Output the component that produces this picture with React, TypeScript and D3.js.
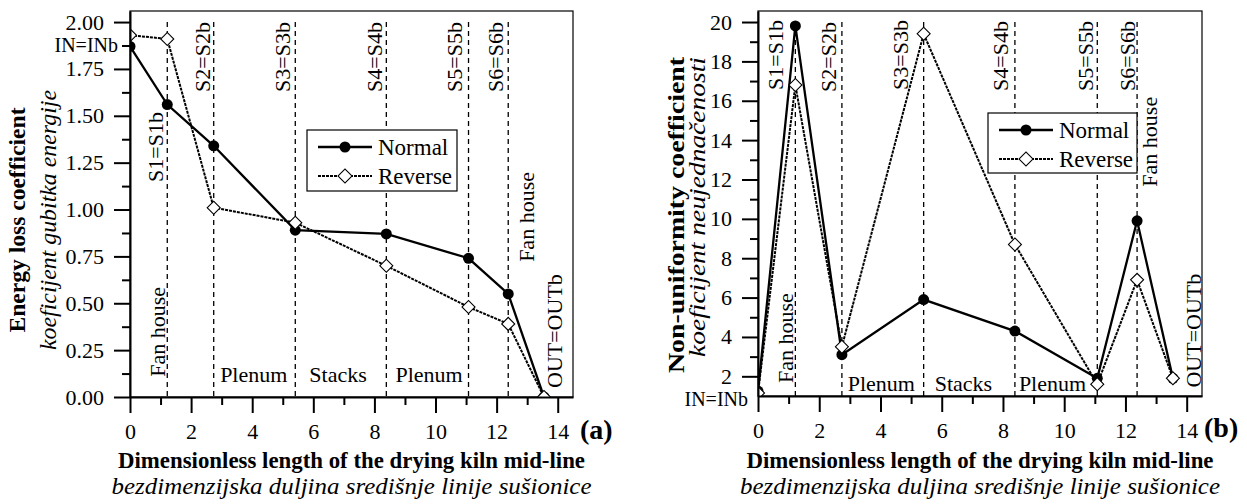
import React, { useEffect, useRef } from 'react';
import * as d3 from 'd3';

const FONT = "'Liberation Serif', 'DejaVu Serif', Times, serif";

// positions along the kiln mid-line (IN, S1..S6, OUT)
const stationX = [0, 1.22, 2.74, 5.41, 8.39, 11.08, 12.38, 13.55];
const sectionX = [1.22, 2.74, 5.41, 8.39, 11.08, 12.38];

// (a) energy loss coefficient
const lossNormal = [1.87, 1.56, 1.34, 0.89, 0.87, 0.74, 0.55, 0.0];
const lossReverse = [1.93, 1.91, 1.01, 0.93, 0.70, 0.48, 0.39, 0.0];

// (b) non-uniformity coefficient
const nonuNormal = [1.25, 19.8, 3.1, 5.9, 4.3, 1.9, 9.9, 1.9];
const nonuReverse = [1.15, 16.8, 3.5, 19.4, 8.7, 1.6, 6.9, 1.9];

const xTicks = [0, 2, 4, 6, 8, 10, 12, 14];
const xMinorTicks = [1, 3, 5, 7, 9, 11, 13];
const lossTicks = [0, 0.25, 0.5, 0.75, 1, 1.25, 1.5, 1.75, 2];
const lossMinorTicks = [0.125, 0.375, 0.625, 0.875, 1.125, 1.375, 1.625, 1.875];
const nonuTicks = [2, 4, 6, 8, 10, 12, 14, 16, 18, 20];
const nonuMinorTicks = [3, 5, 7, 9, 11, 13, 15, 17, 19];

// annotations, in data units: [text, x, y, rotated, anchor]
const lossNotes = [
  ['S1=S1b', 1.08, 1.52, true, 'end'],
  ['S2=S2b', 2.62, 2.0, true, 'end'],
  ['S3=S3b', 5.25, 2.0, true, 'end'],
  ['S4=S4b', 8.25, 2.0, true, 'end'],
  ['S5=S5b', 10.87, 2.0, true, 'end'],
  ['S6=S6b', 12.22, 2.0, true, 'end'],
  ['Fan house', 1.15, 0.108, true, 'start'],
  ['Fan house', 13.21, 1.2, true, 'end'],
  ['OUT=OUTb', 14.15, 0.048, true, 'start'],
  ['Plenum', 2.95, 0.08, false, 'start'],
  ['Stacks', 5.87, 0.08, false, 'start'],
  ['Plenum', 8.69, 0.08, false, 'start'],
];

const nonuNotes = [
  ['S1=S1b', 0.81, 20.1, true, 'end'],
  ['S2=S2b', 2.56, 20.0, true, 'end'],
  ['S3=S3b', 4.90, 20.1, true, 'end'],
  ['S4=S4b', 8.17, 20.05, true, 'end'],
  ['S5=S5b', 10.95, 20.05, true, 'end'],
  ['S6=S6b', 12.31, 20.05, true, 'end'],
  ['Fan house', 1.14, 1.66, true, 'start'],
  ['Fan house', 13.02, 16.2, true, 'end'],
  ['OUT=OUTb', 14.47, 1.43, true, 'start'],
  ['Plenum', 2.93, 1.24, false, 'start'],
  ['Stacks', 5.77, 1.24, false, 'start'],
  ['Plenum', 8.52, 1.24, false, 'start'],
];

const panels = [
  {
    id: 'a', tag: '(a)', tagX: 580, tagY: 439,
    box: { left: 130, right: 573, top: 11, bottom: 397 },
    yDomain: [0, 2.059], yTop: 2.0,
    yTicks: lossTicks, yMinor: lossMinorTicks, yFormat: d3.format('.2f'),
    normal: lossNormal, reverse: lossReverse, notes: lossNotes,
    inLabel: { x: 118, y: 52, size: 20 },
    title: 'Energy loss coefficient', titleX: 25, titleY: 220, titleLen: 225,
    subtitle: 'koeficijent gubitka energije', subX: 56, subY: 220, subLen: 260,
    legend: { x: 307, y: 130, w: 150, h: 61 },
  },
  {
    id: 'b', tag: '(b)', tagX: 1204, tagY: 437,
    box: { left: 758, right: 1202, top: 11, bottom: 396 },
    yDomain: [1, 20.56], yTop: 20,
    yTicks: nonuTicks, yMinor: nonuMinorTicks, yFormat: d3.format('d'),
    normal: nonuNormal, reverse: nonuReverse, notes: nonuNotes,
    inLabel: { x: 748, y: 406, size: 20 },
    title: 'Non-uniformity coefficient', titleX: 684, titleY: 215, titleLen: 316,
    subtitle: 'koeficijent neujednačenosti', subX: 705, subY: 207, subLen: 300,
    legend: { x: 988, y: 113, w: 149, h: 60 },
  },
];

function txt(sel, size, extra) {
  sel.style('font-family', FONT).style('font-size', size + 'px');
  if (extra === 'bold') sel.style('font-weight', 'bold');
  if (extra === 'italic') sel.style('font-style', 'italic');
  return sel;
}

function styleAxis(g, labels) {
  g.attr('font-family', null).attr('font-size', null);
  g.select('.domain').attr('stroke', '#000').attr('stroke-width', 2);
  g.selectAll('.tick line').attr('stroke', '#000').attr('stroke-width', 2);
  g.selectAll('.tick text').attr('fill', '#000').call(txt, 22);
  if (!labels) g.select('.domain').remove();
}

function diamond(sel, r) {
  sel.attr('d', d3.symbol().type(d3.symbolSquare).size(2 * r * r)())
    .attr('fill', '#fff').attr('stroke', '#000').attr('stroke-width', 1.1);
}

function drawPanel(svg, p) {
  const { box } = p;
  const x = d3.scaleLinear().domain([0, 14.5]).range([box.left, box.right]);
  const y = d3.scaleLinear().domain(p.yDomain).range([box.bottom, box.top]);
  const g = svg.append('g');

  g.append('rect')
    .attr('x', box.left).attr('y', box.top)
    .attr('width', box.right - box.left).attr('height', box.bottom - box.top)
    .attr('fill', 'none').attr('stroke', '#000').attr('stroke-width', 1.2);

  // section boundaries
  g.selectAll('line.section').data(sectionX).join('line')
    .attr('class', 'section')
    .attr('x1', d => x(d)).attr('x2', d => x(d))
    .attr('y1', y(p.yTop)).attr('y2', box.bottom)
    .attr('stroke', '#000').attr('stroke-width', 1.3)
    .attr('stroke-dasharray', '5,4');

  // labels inside the plot
  g.selectAll('text.note').data(p.notes).join('text')
    .attr('class', 'note')
    .attr('transform', d => `translate(${x(d[1])},${y(d[2])})` + (d[3] ? ' rotate(-90)' : ''))
    .attr('text-anchor', d => d[4])
    .call(txt, 22)
    .text(d => d[0]);

  const clipId = 'clip-' + p.id;
  svg.append('defs').append('clipPath').attr('id', clipId).append('rect')
    .attr('x', box.left).attr('y', box.top)
    .attr('width', box.right - box.left).attr('height', box.bottom - box.top);

  const plot = g.append('g').attr('clip-path', `url(#${clipId})`);
  const line = d3.line().x((d, i) => x(stationX[i])).y(d => y(d));

  plot.append('path').datum(p.reverse).attr('d', line)
    .attr('fill', 'none').attr('stroke', '#000').attr('stroke-width', 2)
    .attr('stroke-dasharray', '3,1');
  plot.append('path').datum(p.normal).attr('d', line)
    .attr('fill', 'none').attr('stroke', '#000').attr('stroke-width', 2.3);

  plot.selectAll('circle.normal').data(p.normal).join('circle')
    .attr('class', 'normal')
    .attr('cx', (d, i) => x(stationX[i])).attr('cy', d => y(d))
    .attr('r', 5.5).attr('fill', '#000');
  plot.selectAll('path.reverse').data(p.reverse).join('path')
    .attr('class', 'reverse')
    .attr('transform', (d, i) => `translate(${x(stationX[i])},${y(d)}) rotate(45)`)
    .call(diamond, 6.5);

  // legend
  const L = p.legend;
  const lg = g.append('g');
  lg.append('rect').attr('x', L.x).attr('y', L.y).attr('width', L.w).attr('height', L.h)
    .attr('fill', '#fff').attr('stroke', '#000').attr('stroke-width', 1.2);
  const rows = [
    { name: 'Normal', dash: null, cy: L.y + 17 },
    { name: 'Reverse', dash: '3,1', cy: L.y + 46 },
  ];
  rows.forEach(r => {
    lg.append('line').attr('x1', L.x + 11).attr('x2', L.x + 65)
      .attr('y1', r.cy).attr('y2', r.cy)
      .attr('stroke', '#000').attr('stroke-width', r.dash ? 2 : 2.3)
      .attr('stroke-dasharray', r.dash);
    if (r.dash) {
      lg.append('path').attr('transform', `translate(${L.x + 38},${r.cy}) rotate(45)`).call(diamond, 7);
    } else {
      lg.append('circle').attr('cx', L.x + 38).attr('cy', r.cy).attr('r', 5.5).attr('fill', '#000');
    }
    lg.append('text').attr('x', L.x + 71).attr('y', r.cy + 8)
      .call(txt, 23).text(r.name);
  });

  // axes
  const gx = g.append('g').attr('transform', `translate(0,${box.bottom})`)
    .call(d3.axisBottom(x).tickValues(xTicks).tickSize(16).tickSizeOuter(0).tickPadding(10).tickFormat(d3.format('d')));
  styleAxis(gx, true);
  const gxm = g.append('g').attr('transform', `translate(0,${box.bottom})`)
    .call(d3.axisBottom(x).tickValues(xMinorTicks).tickSize(8).tickSizeOuter(0).tickFormat(() => ''));
  styleAxis(gxm, false);

  const gy = g.append('g').attr('transform', `translate(${box.left},0)`)
    .call(d3.axisLeft(y).tickValues(p.yTicks).tickSize(16).tickSizeOuter(0).tickPadding(10).tickFormat(p.yFormat));
  styleAxis(gy, true);
  const gym = g.append('g').attr('transform', `translate(${box.left},0)`)
    .call(d3.axisLeft(y).tickValues(p.yMinor).tickSize(8).tickSizeOuter(0).tickFormat(() => ''));
  styleAxis(gym, false);

  // titles
  g.append('text').attr('x', p.inLabel.x).attr('y', p.inLabel.y)
    .attr('text-anchor', 'end').call(txt, p.inLabel.size).text('IN=INb');

  const cx = (box.left + box.right) / 2;
  g.append('text').attr('x', cx).attr('y', 468).attr('text-anchor', 'middle')
    .attr('textLength', 467).attr('lengthAdjust', 'spacingAndGlyphs')
    .call(txt, 23, 'bold')
    .text('Dimensionless length of the drying kiln mid-line');
  g.append('text').attr('x', cx).attr('y', 494).attr('text-anchor', 'middle')
    .attr('textLength', 480).attr('lengthAdjust', 'spacingAndGlyphs')
    .call(txt, 23, 'italic')
    .text('bezdimenzijska duljina središnje linije sušionice');

  g.append('text').attr('transform', `translate(${p.titleX},${p.titleY}) rotate(-90)`)
    .attr('text-anchor', 'middle')
    .attr('textLength', p.titleLen).attr('lengthAdjust', 'spacingAndGlyphs')
    .call(txt, 23, 'bold')
    .text(p.title);
  g.append('text').attr('transform', `translate(${p.subX},${p.subY}) rotate(-90)`)
    .attr('text-anchor', 'middle')
    .attr('textLength', p.subLen).attr('lengthAdjust', 'spacingAndGlyphs')
    .call(txt, 23, 'italic')
    .text(p.subtitle);

  g.append('text').attr('x', p.tagX).attr('y', p.tagY)
    .call(txt, 28, 'bold').text(p.tag);
}

export default function App() {
  const ref = useRef(null);

  useEffect(() => {
    const svg = d3.select(ref.current);
    svg.selectAll('*').remove();
    panels.forEach(p => drawPanel(svg, p));
  }, []);

  return (
    <svg ref={ref} width={1247} height={504}
      style={{ position: 'absolute', left: 0, top: 0, background: '#fff' }} />
  );
}
